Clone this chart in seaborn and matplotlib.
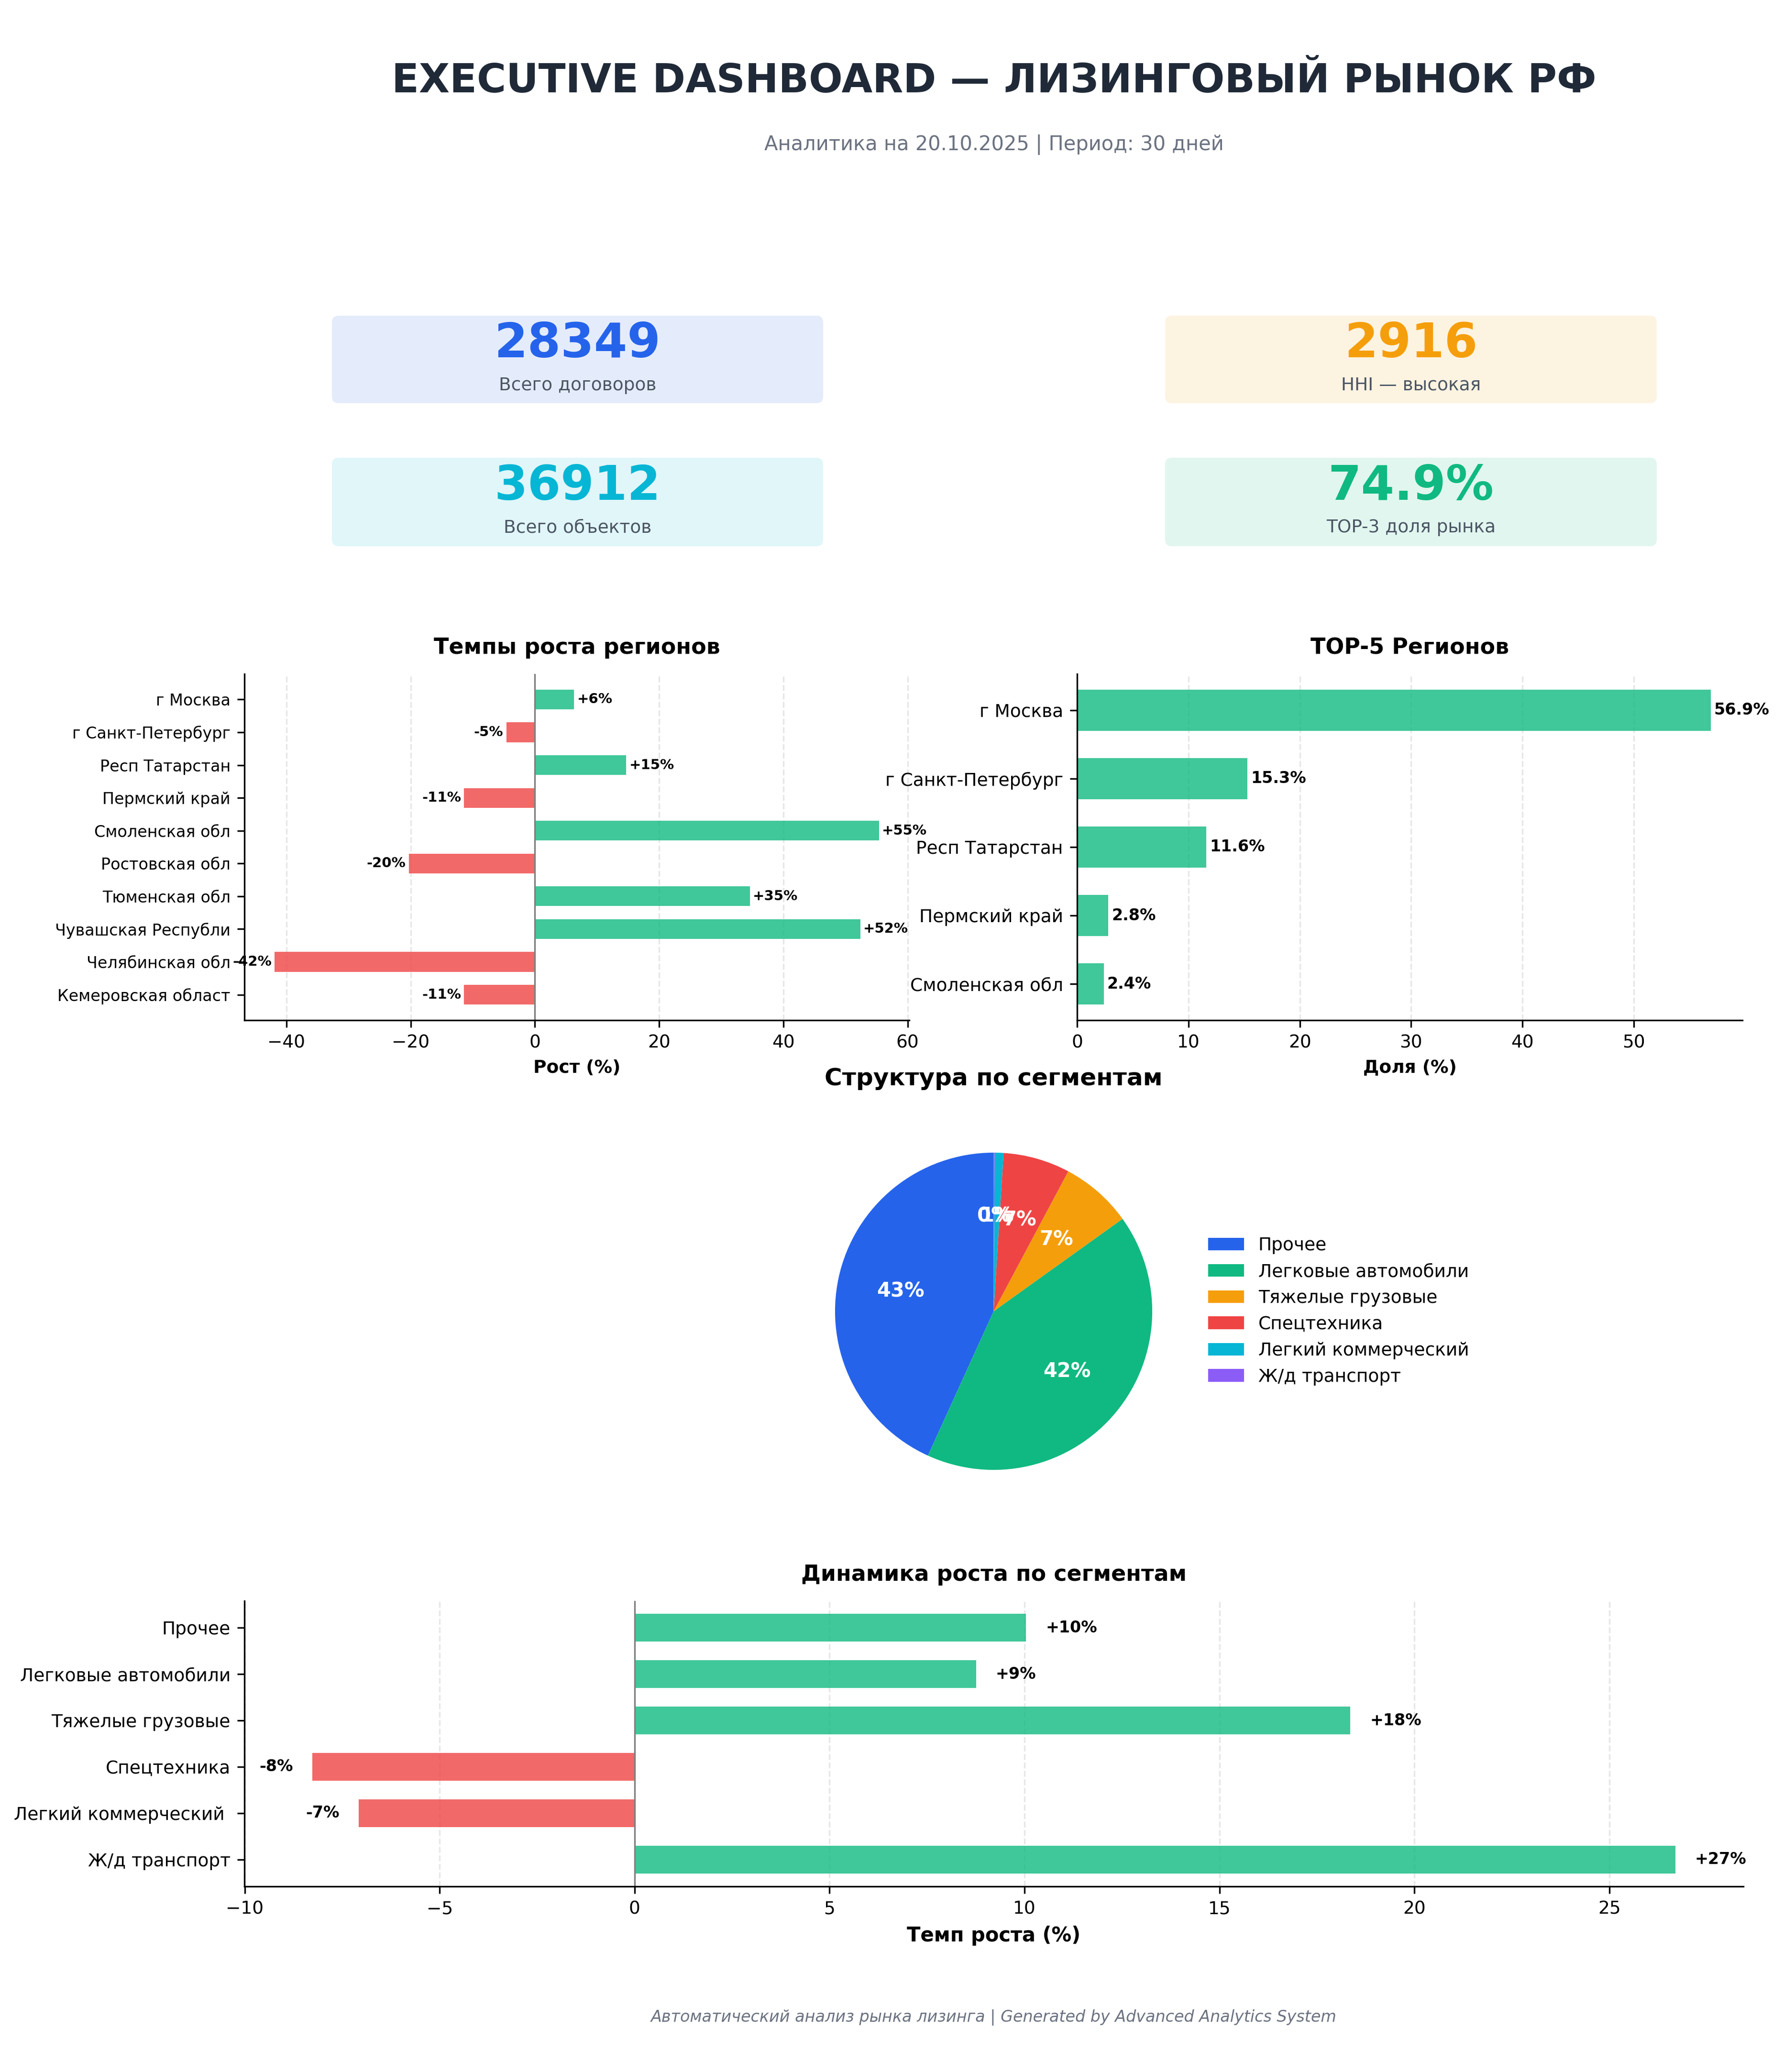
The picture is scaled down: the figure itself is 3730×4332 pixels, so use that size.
import matplotlib
matplotlib.use("Agg")
import matplotlib.pyplot as plt
from matplotlib.patches import FancyBboxPatch
import seaborn as sns
import pandas as pd

# ---------------- data ----------------
kpi_values = ["28349", "2916", "36912", "74.9%"]
kpi_labels = ["Всего договоров", "HHI — высокая", "Всего объектов", "TOP-3 доля рынка"]
kpi_colors = ["#2563eb", "#f59e0b", "#06b6d4", "#10b981"]

growth_regions = ["г Москва", "г Санкт-Петербург", "Респ Татарстан", "Пермский край",
                  "Смоленская обл", "Ростовская обл", "Тюменская обл",
                  "Чувашская Республика", "Челябинская обл", "Кемеровская область"]
growth_values = [6.3, -4.6, 14.7, -11.4, 55.4, -20.3, 34.6, 52.4, -41.9, -11.4]

top_regions = ["г Москва", "г Санкт-Петербург", "Респ Татарстан", "Пермский край", "Смоленская обл"]
top_shares = [56.9, 15.3, 11.6, 2.8, 2.4]

segments = ["Прочее", "Легковые автомобили", "Тяжелые грузовые", "Спецтехника",
            "Легкий коммерческий ", "Ж/д транспорт"]
segment_shares = [43.2, 41.7, 7.3, 6.8, 0.9, 0.1]
segment_colors = ["#2563eb", "#10b981", "#f59e0b", "#ef4444", "#06b6d4", "#8b5cf6"]
segment_growth = [10.04, 8.76, 18.36, -8.26, -7.07, 26.69]

POS = "#10b981"
NEG = "#ef4444"

# ---------------- style ----------------
sns.set_style("ticks", rc={
    "axes.edgecolor": "black", "text.color": "black", "axes.labelcolor": "black",
    "xtick.color": "black", "ytick.color": "black", "axes.linewidth": 1.25,
    "xtick.major.size": 2.5, "ytick.major.size": 2.5,
    "xtick.major.width": 0.8, "ytick.major.width": 0.8,
})
plt.rcParams["font.family"] = ["DejaVu Sans"]

W, H, DPI = 3730, 4332, 300
fig = plt.figure(figsize=(W / DPI, H / DPI), dpi=DPI)
fig.patch.set_facecolor("white")

bg = fig.add_axes([0, 0, 1, 1])
bg.set_xlim(0, W)
bg.set_ylim(H, 0)
bg.set_axis_off()
bg.patch.set_alpha(0)


def px_axes(x0, y0, x1, y1):
    return fig.add_axes([x0 / W, 1 - y1 / H, (x1 - x0) / W, (y1 - y0) / H])


# ---------------- header ----------------
bg.text(2078, 170, "EXECUTIVE DASHBOARD — ЛИЗИНГОВЫЙ РЫНОК РФ", ha="center", va="center",
        fontsize=20, fontweight="bold", color="#1f2937")
bg.text(2078, 302, "Аналитика на 20.10.2025 | Период: 30 дней", ha="center", va="center",
        fontsize=10, color="#6b7280")

# ---------------- KPI cards ----------------
card_x = [(694, 1721), (2436, 3464), (694, 1721), (2436, 3464)]
card_y = [(660, 843), (660, 843), (957, 1142), (957, 1142)]
for val, lab, col, (x0, x1), (y0, y1) in zip(kpi_values, kpi_labels, kpi_colors, card_x, card_y):
    box = FancyBboxPatch((x0, y0), x1 - x0, y1 - y0,
                         boxstyle="round,pad=0,rounding_size=14",
                         facecolor=col, alpha=0.12, edgecolor="none")
    bg.add_patch(box)
    cx = (x0 + x1) / 2
    bg.text(cx, y0 + 60, val, ha="center", va="center", fontsize=24,
            fontweight="bold", color=col)
    bg.text(cx, y0 + 146, lab, ha="center", va="center", fontsize=9, color="#4b5563")


def bar_margins(ax, n):
    lo, hi = -0.3, n - 1 + 0.3
    pad = 0.05 * (hi - lo)
    ax.set_ylim(hi + pad, lo - pad)


# ---------------- growth of regions ----------------
ax1 = px_axes(511, 1409, 1901, 2133)
short = [r[:18] for r in growth_regions]
df1 = pd.DataFrame({"region": short, "growth": growth_values})
cols1 = [POS if v > 0 else NEG for v in growth_values]
sns.barplot(data=df1, x="growth", y="region", hue="region", palette=cols1, legend=False,
            orient="h", width=0.6, alpha=0.8, saturation=1, errorbar=None,
            linewidth=0, ax=ax1)
bar_margins(ax1, len(short))
ax1.axvline(0, color="gray", linewidth=0.8)
for i, v in enumerate(growth_values):
    ax1.text(v + (0.5 if v > 0 else -0.5), i, f"{v:+.0f}%", va="center",
             ha="left" if v > 0 else "right", fontsize=7, fontweight="bold")
ax1.set_title("Темпы роста регионов", fontsize=11, fontweight="bold", pad=10)
ax1.set_xlabel("Рост (%)", fontsize=9, fontweight="bold")
ax1.set_ylabel("")
ax1.tick_params(axis="y", labelsize=8)
ax1.tick_params(axis="x", labelsize=9)
ax1.grid(axis="x", linestyle="--", alpha=0.3, color="#b0b0b0")
ax1.set_axisbelow(True)
sns.despine(ax=ax1)

# ---------------- TOP-5 regions ----------------
ax2 = px_axes(2252, 1409, 3643, 2133)
df2 = pd.DataFrame({"region": top_regions, "share": top_shares})
sns.barplot(data=df2, x="share", y="region", hue="region", palette=[POS] * len(top_regions),
            legend=False, orient="h", width=0.6, alpha=0.8, saturation=1, errorbar=None,
            linewidth=0, ax=ax2)
bar_margins(ax2, len(top_regions))
ax2.set_xlim(0, max(top_shares) * 1.05)
for i, v in enumerate(top_shares):
    ax2.text(v + 0.3, i, f"{v:.1f}%", va="center", ha="left", fontsize=8, fontweight="bold")
ax2.set_title("TOP-5 Регионов", fontsize=11, fontweight="bold", pad=10)
ax2.set_xlabel("Доля (%)", fontsize=9, fontweight="bold")
ax2.set_ylabel("")
ax2.tick_params(axis="y", labelsize=9)
ax2.tick_params(axis="x", labelsize=9)
ax2.grid(axis="x", linestyle="--", alpha=0.3, color="#b0b0b0")
ax2.set_axisbelow(True)
sns.despine(ax=ax2)

# ---------------- segment structure (pie) ----------------
axp = px_axes(1663, 2327, 2492, 3156)
wedges, _, autotexts = axp.pie(segment_shares, colors=segment_colors, autopct="%1.0f%%",
                               startangle=90, wedgeprops={"linewidth": 0},
                               textprops={"color": "white", "fontweight": "bold", "fontsize": 10})
axp.set_title("Структура по сегментам", fontsize=12, fontweight="bold", pad=14)
axp.legend(wedges, [s.strip() for s in segments], loc="center left", bbox_to_anchor=(1, 0.5),
           frameon=False, fontsize=9)

# ---------------- segment growth ----------------
ax3 = px_axes(511, 3347, 3645, 3944)
df3 = pd.DataFrame({"segment": segments, "growth": segment_growth})
cols3 = [POS if v > 0 else NEG for v in segment_growth]
sns.barplot(data=df3, x="growth", y="segment", hue="segment", palette=cols3, legend=False,
            orient="h", width=0.6, alpha=0.8, saturation=1, errorbar=None,
            linewidth=0, ax=ax3)
bar_margins(ax3, len(segments))
ax3.axvline(0, color="gray", linewidth=0.8)
for i, v in enumerate(segment_growth):
    ax3.text(v + (0.5 if v > 0 else -0.5), i, f"{v:+.0f}%", va="center",
             ha="left" if v > 0 else "right", fontsize=8, fontweight="bold")
ax3.set_title("Динамика роста по сегментам", fontsize=11, fontweight="bold", pad=10)
ax3.set_xlabel("Темп роста (%)", fontsize=10, fontweight="bold")
ax3.set_ylabel("")
ax3.tick_params(axis="y", labelsize=9)
ax3.tick_params(axis="x", labelsize=9)
ax3.grid(axis="x", linestyle="--", alpha=0.3, color="#b0b0b0")
ax3.set_axisbelow(True)
sns.despine(ax=ax3)

# ---------------- footer ----------------
bg.text(2078, 4218, "Автоматический анализ рынка лизинга | Generated by Advanced Analytics System",
        ha="center", va="center", fontsize=8, style="italic", color="#6b7280")

fig.savefig("out.png", dpi=DPI, facecolor="white")
